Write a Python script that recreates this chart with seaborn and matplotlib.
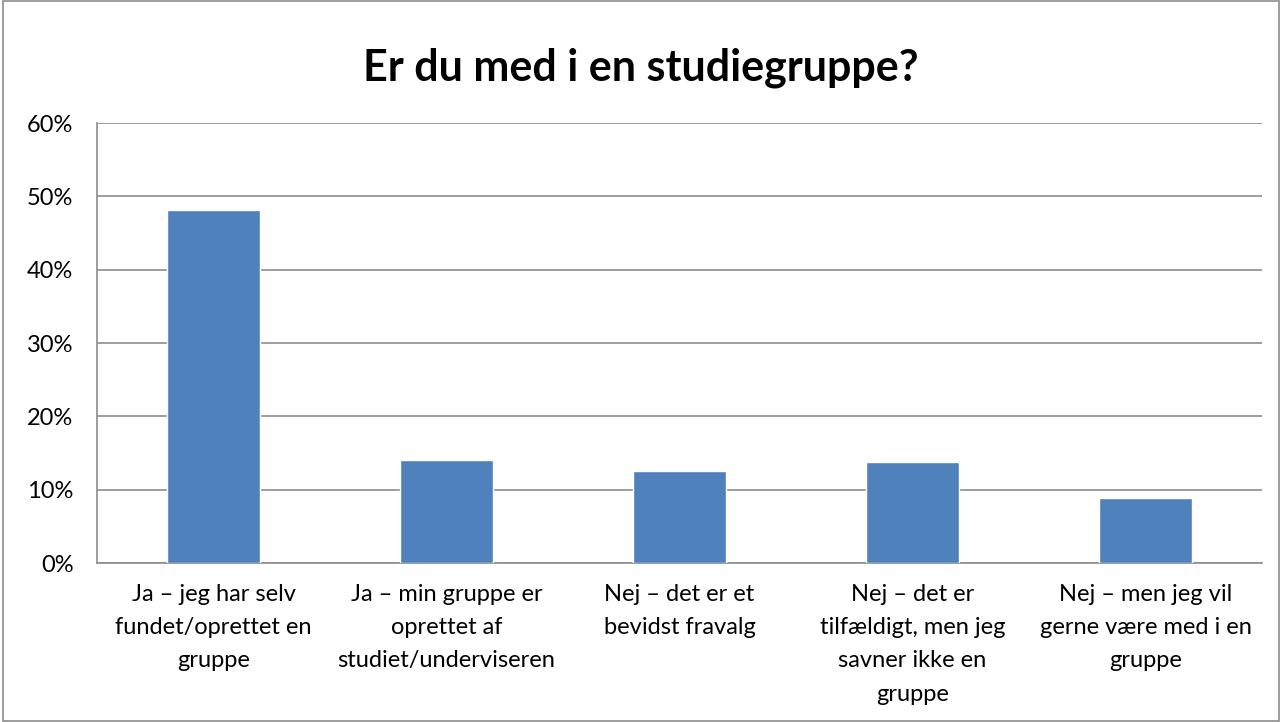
import numpy as np
import pandas as pd
import matplotlib
matplotlib.use("Agg")
import matplotlib.pyplot as plt
import seaborn as sns
from matplotlib.ticker import PercentFormatter
from matplotlib.patches import Rectangle

categories = [
    "Ja – jeg har selv\nfundet/oprettet en\ngruppe",
    "Ja – min gruppe er\noprettet af\nstudiet/underviseren",
    "Nej – det er et\nbevidst fravalg",
    "Nej – det er\ntilfældigt, men jeg\nsavner ikke en\ngruppe",
    "Nej – men jeg vil\ngerne være med i en\ngruppe",
]
shares = [0.482, 0.140, 0.125, 0.138, 0.088]

df = pd.DataFrame({"svar": categories, "andel": shares})

sns.set_style("white")
plt.rcParams["font.family"] = ["Lato", "DejaVu Sans"]

fig = plt.figure(figsize=(12.82, 7.22), dpi=100)
ax = fig.add_axes([97 / 1282, 1 - 563 / 722, (1262 - 97) / 1282, (563 - 123) / 722])

sns.barplot(data=df, x="svar", y="andel", color="#4F81BD", width=0.4,
            saturation=1, ax=ax, zorder=3)

ax.set_ylim(0, 0.6)
ax.set_yticks(np.arange(0, 0.61, 0.1))
ax.yaxis.set_major_formatter(PercentFormatter(1.0, decimals=0))
ax.grid(axis="y", color="#8C8C8C", linewidth=1.2, zorder=0)
ax.set_axisbelow(True)
ax.set_xlabel("")
ax.set_ylabel("")
for s in ["top", "right"]:
    ax.spines[s].set_visible(False)
for s in ["left", "bottom"]:
    ax.spines[s].set_color("#8C8C8C")
    ax.spines[s].set_linewidth(1.2)
ax.tick_params(axis="y", labelsize=17, length=0, pad=17, colors="black")
ax.tick_params(axis="x", labelsize=17, length=0, pad=15, colors="black")
for lab in ax.get_xticklabels():
    lab.set_linespacing(1.72)

fig.text(0.5, 1 - 68 / 722, "Er du med i en studiegruppe?", ha="center", va="center",
         fontsize=31, fontweight="bold", color="black")

fig.patches.append(Rectangle((0.002, 0.002), 0.996, 0.996, transform=fig.transFigure,
                             fill=False, edgecolor="#8C8C8C", linewidth=1.2))

fig.savefig("out.png", dpi=100)
